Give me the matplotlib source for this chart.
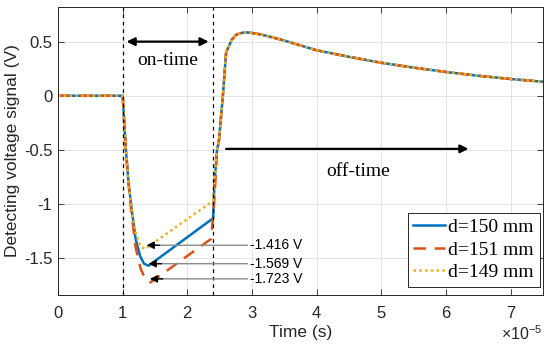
import matplotlib
matplotlib.use('Agg')
import matplotlib.pyplot as plt

plt.rcParams['font.family'] = ['Liberation Sans', 'DejaVu Sans']
plt.rcParams['mathtext.fontset'] = 'custom'
plt.rcParams['mathtext.rm'] = 'Liberation Sans'

# time axis in units of 1e-5 s
t_pre = [0.0, 1.0]
v_pre = [0.0, 0.0]

# on-time part (drop + ramp), per distance
t_150 = [1.02, 1.05, 1.09, 1.14, 1.20, 1.27, 1.33, 1.40, 2.40, 2.42, 2.46]
v_150 = [-0.2, -0.5, -0.8, -1.05, -1.32, -1.48, -1.55, -1.569, -1.13, -0.80, -0.50]

t_151 = [1.02, 1.05, 1.09, 1.13, 1.20, 1.28, 1.35, 1.43, 2.37, 2.42, 2.46]
v_151 = [-0.2, -0.5, -0.8, -1.05, -1.40, -1.60, -1.69, -1.723, -1.32, -0.95, -0.50]

t_149 = [1.02, 1.05, 1.09, 1.14, 1.20, 1.27, 1.34, 2.40, 2.43, 2.47]
v_149 = [-0.2, -0.5, -0.8, -1.05, -1.26, -1.38, -1.416, -0.97, -0.70, -0.45]

# off-time part (common to all three)
t_off = [2.49, 2.55, 2.60, 2.69, 2.76, 2.85, 2.92, 3.00, 3.10, 3.25, 3.50, 3.75,
         4.00, 4.50, 5.00, 5.50, 6.00, 6.50, 7.00, 7.50]
v_off = [-0.41, 0.0, 0.40, 0.52, 0.565, 0.582, 0.585, 0.58, 0.57, 0.55, 0.51, 0.465,
         0.42, 0.36, 0.305, 0.26, 0.22, 0.185, 0.155, 0.13]

labels = ['d=150 mm', 'd=151 mm', 'd=149 mm']
peak_text = ['-1.416 V', '-1.569 V', '-1.723 V']
peak_v = [-1.38, -1.55, -1.69]
peak_t = [1.37, 1.40, 1.42]

xticks = [0, 1, 2, 3, 4, 5, 6, 7]
yticks = [-1.5, -1, -0.5, 0, 0.5]
ytick_labels = ['-1.5', '-1', '-0.5', '0', '0.5']

blue = '#0072BD'
red = '#D95319'
yellow = '#EDB120'
dark = '#262626'

fig = plt.figure(figsize=(5.5, 3.48), dpi=100)
ax = fig.add_axes([0.1055, 0.152, 0.8815, 0.828])

ax.plot(t_pre + t_150 + t_off, v_pre + v_150 + v_off, color=blue, lw=1.8,
        ls='-', label=labels[0])
ax.plot(t_pre + t_151 + t_off, v_pre + v_151 + v_off, color=red, lw=1.8,
        ls=(0, (5, 3.5)), label=labels[1])
ax.plot(t_pre + t_149 + t_off, v_pre + v_149 + v_off, color=yellow, lw=1.8,
        ls=(0, (1, 1.3)), label=labels[2])

# pulse boundaries
for xv in [1.0, 2.4]:
    ax.axvline(xv, color='black', ls=(0, (3, 3)), lw=0.9)

ax.set_xlim(0, 7.5)
ax.set_ylim(-1.84, 0.82)
ax.set_xticks(xticks)
ax.set_xticklabels([str(x) for x in xticks])
ax.set_yticks(yticks)
ax.set_yticklabels(ytick_labels)
ax.tick_params(direction='in', top=True, right=True, labelsize=12,
               length=4, width=0.6, colors=dark)
ax.tick_params(axis='x', pad=8)
ax.tick_params(axis='y', pad=4)
ax.grid(True, color='#e3e3e3', lw=0.7)
ax.set_axisbelow(True)
for s in ax.spines.values():
    s.set_color(dark)
    s.set_linewidth(0.7)

ax.set_xlabel('Time (s)', fontsize=12.5, color=dark, labelpad=3)
ax.set_ylabel('Detecting voltage signal (V)', fontsize=12.5, color=dark,
              labelpad=3)
ax.text(1.0, -0.1, r'$\times10^{-5}$', transform=ax.transAxes, ha='right',
        va='top', fontsize=11.5, color=dark)

# on-time / off-time arrows
ax.annotate('', xy=(2.33, 0.5), xytext=(1.06, 0.5),
            arrowprops=dict(arrowstyle='<|-|>', color='black', lw=1.6,
                            mutation_scale=12, shrinkA=0, shrinkB=0))
ax.text(1.7, 0.33, 'on-time', fontsize=14, family='Liberation Serif',
        ha='center', va='center')
ax.annotate('', xy=(6.35, -0.49), xytext=(2.6, -0.49),
            arrowprops=dict(arrowstyle='-|>', color='black', lw=1.6,
                            mutation_scale=12, shrinkA=0, shrinkB=0))
ax.text(4.65, -0.7, 'off-time', fontsize=14, family='Liberation Serif',
        ha='center', va='center')

# peak annotations
for txt, yv, xv in zip(peak_text, peak_v, peak_t):
    ax.annotate('', xy=(xv + 0.12, yv), xytext=(2.93, yv),
                arrowprops=dict(arrowstyle='-', color='#8c8c8c', lw=1.0,
                                shrinkA=0, shrinkB=0))
    ax.annotate('', xy=(xv, yv), xytext=(xv + 0.2, yv),
                arrowprops=dict(arrowstyle='-|>', color='black', lw=1.0,
                                mutation_scale=11, shrinkA=0, shrinkB=0))
    ax.text(2.97, yv, txt, fontsize=10, ha='left', va='center',
            color='black')

leg = ax.legend(loc='lower right', bbox_to_anchor=(0.994, 0.028),
                prop={'family': 'Liberation Serif', 'size': 14},
                fancybox=False, framealpha=1, edgecolor=dark,
                handlelength=1.6, handletextpad=0.2, borderpad=0.3,
                labelspacing=0.25, borderaxespad=0)
leg.get_frame().set_linewidth(0.7)

fig.savefig('out.png', dpi=100)
